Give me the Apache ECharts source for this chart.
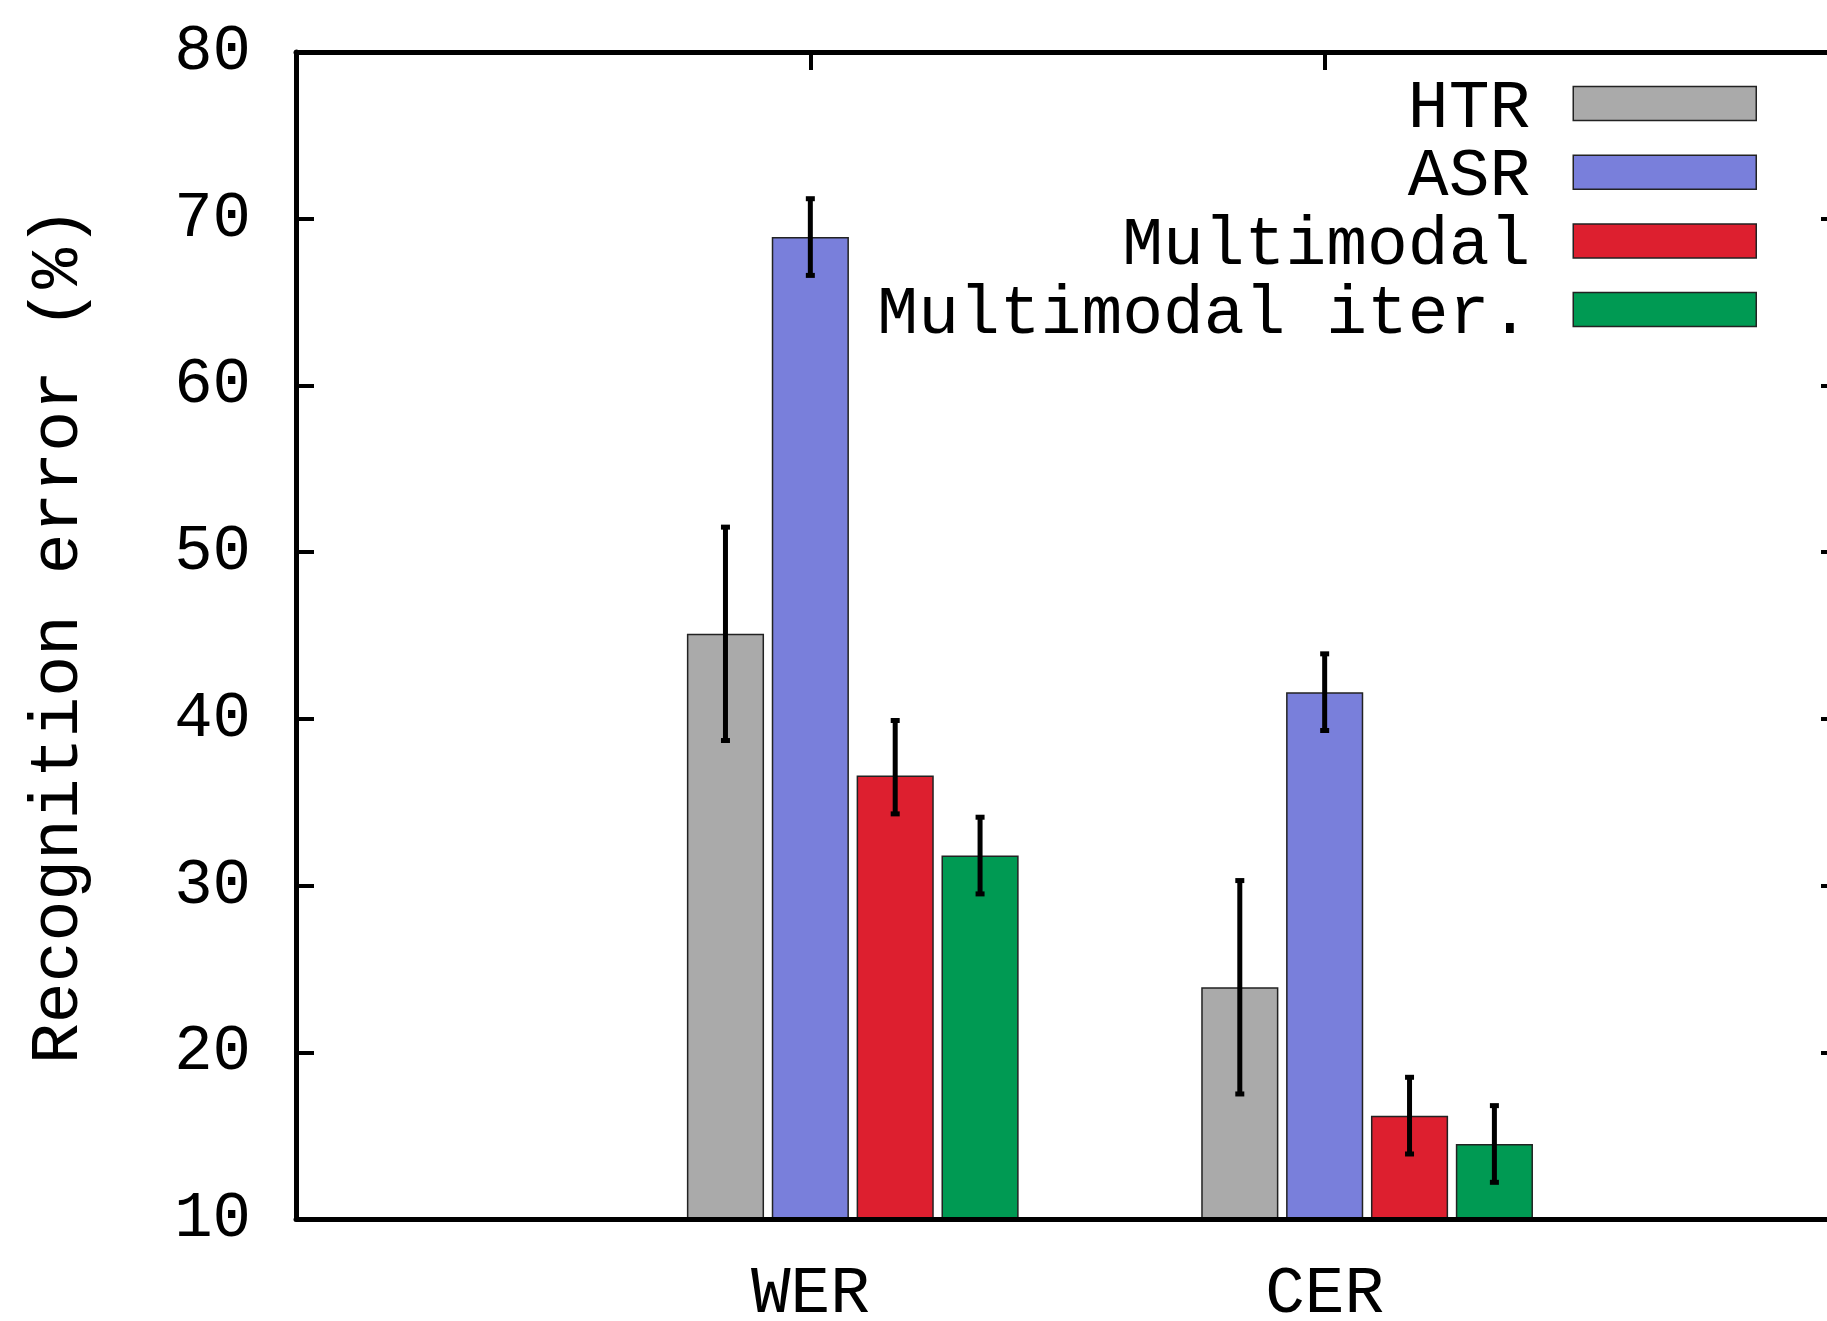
<!DOCTYPE html>
<html>
<head>
    <meta charset="utf-8">
    <title>Recognition error</title>
    <script src="https://cdn.jsdelivr.net/npm/echarts@6/dist/echarts.min.js"></script>
    <style type="text/css">
        html, body {margin:0; padding:0; background-color:#ffffff; overflow:hidden;}
    </style>
</head>
<body>
<div id="container" style="width:1827px;height:1321px;"></div>

<script type="text/javascript">
    // categories (first and last slots are the empty ends of the x range)
    var categories = ['', 'WER', 'CER', ''];

    var seriesNames = ['HTR', 'ASR', 'Multimodal', 'Multimodal iter.'];
    var seriesColors = ['#aaaaaa', '#797fdb', '#dd1f2f', '#009a53'];

    // bar heights (%)
    var htr = ['-', 45.1, 23.9, '-'];
    var asr = ['-', 68.9, 41.6, '-'];
    var multimodal = ['-', 36.6, 16.2, '-'];
    var multimodalIter = ['-', 31.8, 14.5, '-'];

    // error bar ends [category index, low, high]
    var htrErr = [[1, 38.7, 51.5], [2, 17.5, 30.3]];
    var asrErr = [[1, 66.6, 71.2], [2, 39.3, 43.9]];
    var multimodalErr = [[1, 34.3, 39.9], [2, 13.9, 18.5]];
    var multimodalIterErr = [[1, 29.5, 34.1], [2, 12.2, 16.8]];

    var yTicks = [10, 20, 30, 40, 50, 60, 70, 80];

    var barValues = [htr, asr, multimodal, multimodalIter];
    var errValues = [htrErr, asrErr, multimodalErr, multimodalIterErr];

    var FONT = 'Liberation Mono';
    var BAR_W = 0.15;   // of category band
    var BAR_GAP = 0.10; // of bar width

    var dom = document.getElementById('container');
    var myChart = echarts.init(dom);

    function errorRender(slot) {
        return function (params, api) {
            var band = api.size([1, 0])[0];
            var bw = band * BAR_W;
            var offset = (slot - 1) * bw * (1 + BAR_GAP);
            var lo = api.coord([api.value(0), api.value(1)]);
            var hi = api.coord([api.value(0), api.value(2)]);
            var x = lo[0] + offset;
            var cap = 4.5;
            var st = {stroke: '#000', lineWidth: 5};
            return {
                type: 'group',
                children: [
                    {type: 'line', shape: {x1: x, y1: lo[1], x2: x, y2: hi[1]}, style: st},
                    {type: 'line', shape: {x1: x - cap, y1: lo[1], x2: x + cap, y2: lo[1]}, style: st},
                    {type: 'line', shape: {x1: x - cap, y1: hi[1], x2: x + cap, y2: hi[1]}, style: st}
                ]
            };
        };
    }

    var series = [];
    // empty leading slot so that the tick sits on the second bar, as in the source plot
    series.push({
        name: 'pad',
        type: 'bar',
        barWidth: (BAR_W * 100) + '%',
        barGap: (BAR_GAP * 100) + '%',
        data: ['-', '-', '-', '-']
    });
    for (var i = 0; i < seriesNames.length; i++) {
        series.push({
            name: seriesNames[i],
            type: 'bar',
            barWidth: (BAR_W * 100) + '%',
            barGap: (BAR_GAP * 100) + '%',
            itemStyle: {color: seriesColors[i], borderColor: '#222', borderWidth: 1.5},
            data: barValues[i]
        });
    }
    for (var j = 0; j < seriesNames.length; j++) {
        series.push({
            name: seriesNames[j],
            type: 'custom',
            z: 10,
            renderItem: errorRender(j),
            encode: {x: 0, y: [1, 2]},
            itemStyle: {color: seriesColors[j]},
            data: errValues[j]
        });
    }

    var option = {
        animation: false,
        backgroundColor: '#ffffff',
        textStyle: {fontFamily: FONT, color: '#000'},
        grid: {
            left: 296,
            top: 52,
            bottom: 102,
            width: 1543,
            outerBoundsMode: 'none'
        },
        legend: {
            data: seriesNames,
            orient: 'vertical',
            align: 'right',
            right: 70,
            top: 64.5,
            padding: 0,
            itemGap: -9.3,
            itemWidth: 183,
            itemHeight: 34,
            icon: 'rect',
            itemStyle: {borderColor: '#222', borderWidth: 1.5},
            formatter: '{t|{name}}',
            textStyle: {
                fontFamily: FONT,
                fontSize: 68,
                lineHeight: 66,
                color: '#000',
                padding: [0, 38, 0, 0],
                rich: {
                    t: {
                        fontFamily: FONT,
                        fontSize: 68,
                        lineHeight: 66,
                        color: '#000',
                        padding: [10, 0, 0, 0]
                    }
                }
            }
        },
        xAxis: [{
            type: 'category',
            data: categories,
            boundaryGap: false,
            position: 'bottom',
            z: 5,
            axisLine: {lineStyle: {color: '#000', width: 5}},
            axisTick: {show: false},
            axisLabel: {
                interval: 0,
                margin: 43,
                fontFamily: FONT,
                fontSize: 66,
                color: '#000'
            },
            splitLine: {show: false}
        }, {
            type: 'category',
            data: categories,
            boundaryGap: false,
            position: 'top',
            z: 5,
            axisLine: {lineStyle: {color: '#000', width: 5}},
            axisTick: {show: true, inside: true, length: 18, interval: 0, lineStyle: {color: '#000', width: 4}},
            axisLabel: {show: false},
            splitLine: {show: false}
        }],
        yAxis: [{
            type: 'value',
            min: yTicks[0],
            max: yTicks[yTicks.length - 1],
            interval: 10,
            position: 'left',
            z: 5,
            name: 'Recognition error (%)',
            nameLocation: 'middle',
            nameGap: 203,
            nameTextStyle: {fontFamily: FONT, fontSize: 68, color: '#000'},
            axisLine: {show: true, lineStyle: {color: '#000', width: 5}},
            axisTick: {show: true, inside: true, length: 18, lineStyle: {color: '#000', width: 4}},
            axisLabel: {margin: 45, fontFamily: FONT, fontSize: 64, color: '#000'},
            splitLine: {show: false}
        }, {
            type: 'value',
            min: yTicks[0],
            max: yTicks[yTicks.length - 1],
            interval: 10,
            position: 'right',
            z: 5,
            axisLine: {show: true, lineStyle: {color: '#000', width: 5}},
            axisTick: {show: true, inside: true, length: 18, lineStyle: {color: '#000', width: 4}},
            axisLabel: {show: false},
            splitLine: {show: false}
        }],
        series: series
    };

    myChart.setOption(option, true);
</script>
</body>
</html>
